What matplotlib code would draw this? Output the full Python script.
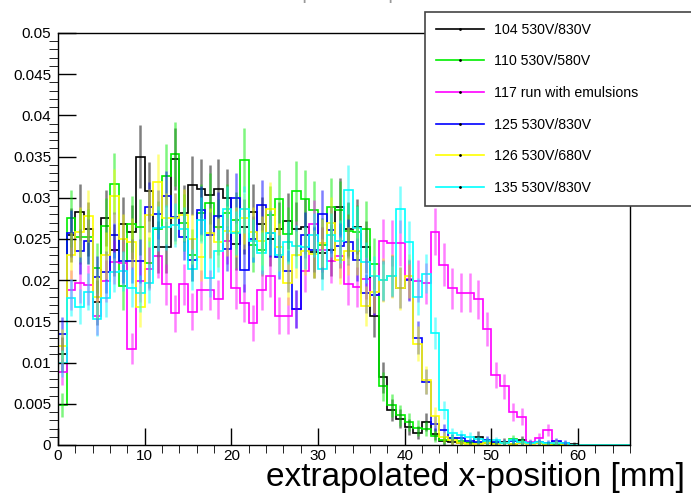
import numpy as np
import matplotlib
matplotlib.use("Agg")
import matplotlib.pyplot as plt
from matplotlib.lines import Line2D

plt.rcParams['font.family'] = ['Liberation Sans', 'DejaVu Sans']

# bin edges: 66 bins of 1 mm
edges = np.arange(0, 67, 1.0)

# normalised bin contents, bins 0..65
run104 = [0.0110, 0.0255, 0.0283, 0.0262, 0.0173, 0.0276, 0.0237, 0.0268, 0.0258, 0.0350,
          0.0308, 0.0240, 0.0240, 0.0347, 0.0281, 0.0315, 0.0311, 0.0304, 0.0311, 0.0300,
          0.0244, 0.0265, 0.0283, 0.0268, 0.0250, 0.0262, 0.0272, 0.0262, 0.0265, 0.0234,
          0.0233, 0.0237, 0.0289, 0.0262, 0.0265, 0.0240, 0.0156, 0.0082, 0.0043, 0.0032,
          0.0022, 0.0015, 0.0028, 0.0013, 0.0005, 0.0004, 0.0002, 0.0003, 0.0010, 0.0003,
          0.0002, 0.0004, 0.0001, 0.0006, 0.0002, 0.0002, 0.0001, 0.0002, 0.0001, 0.0001,
          0, 0, 0, 0, 0, 0]
run110 = [0.0049, 0.0275, 0.0253, 0.0253, 0.0215, 0.0266, 0.0317, 0.0193, 0.0268, 0.0265,
          0.0221, 0.0262, 0.0327, 0.0353, 0.0270, 0.0231, 0.0282, 0.0294, 0.0265, 0.0282,
          0.0273, 0.0346, 0.0243, 0.0237, 0.0279, 0.0298, 0.0256, 0.0308, 0.0298, 0.0285,
          0.0243, 0.0289, 0.0285, 0.0260, 0.0258, 0.0262, 0.0220, 0.0071, 0.0048, 0.0036,
          0.0028, 0.0021, 0.0020, 0.0011, 0.0006, 0.0008, 0.0005, 0.0003, 0.0002, 0.0004,
          0.0003, 0.0002, 0.0007, 0.0004, 0.0002, 0.0003, 0.0001, 0.0001, 0, 0,
          0, 0, 0, 0, 0, 0]
run117 = [0.0089, 0.0188, 0.0197, 0.0194, 0.0156, 0.0199, 0.0222, 0.0221, 0.0117, 0.0199,
          0.0214, 0.0229, 0.0195, 0.0160, 0.0195, 0.0162, 0.0188, 0.0188, 0.0177, 0.0248,
          0.0190, 0.0172, 0.0148, 0.0188, 0.0205, 0.0157, 0.0157, 0.0165, 0.0211, 0.0268,
          0.0237, 0.0223, 0.0229, 0.0195, 0.0192, 0.0202, 0.0182, 0.0247, 0.0245, 0.0245,
          0.0201, 0.0199, 0.0196, 0.0259, 0.0219, 0.0190, 0.0185, 0.0185, 0.0177, 0.0141,
          0.0085, 0.0071, 0.0040, 0.0034, 0.0004, 0.0009, 0.0018, 0.0004, 0.0002, 0,
          0, 0, 0, 0, 0, 0]
run125 = [0.0135, 0.0257, 0.0235, 0.0247, 0.0204, 0.0210, 0.0255, 0.0223, 0.0223, 0.0223,
          0.0289, 0.0280, 0.0302, 0.0277, 0.0253, 0.0225, 0.0285, 0.0255, 0.0278, 0.0238,
          0.0300, 0.0212, 0.0250, 0.0291, 0.0257, 0.0228, 0.0211, 0.0165, 0.0255, 0.0237,
          0.0280, 0.0261, 0.0242, 0.0246, 0.0225, 0.0184, 0.0182, 0.0200, 0.0205, 0.0191,
          0.0200, 0.0130, 0.0077, 0.0026, 0.0018, 0.0008, 0.0008, 0.0005, 0.0004, 0.0006,
          0.0004, 0.0003, 0.0005, 0.0002, 0.0003, 0.0004, 0.0003, 0.0005, 0.0003, 0,
          0, 0, 0, 0, 0, 0]
run126 = [0.0120, 0.0230, 0.0258, 0.0278, 0.0180, 0.0230, 0.0302, 0.0250, 0.0246, 0.0168,
          0.0279, 0.0319, 0.0275, 0.0275, 0.0279, 0.0250, 0.0228, 0.0257, 0.0246, 0.0260,
          0.0258, 0.0275, 0.0258, 0.0248, 0.0287, 0.0240, 0.0197, 0.0231, 0.0235, 0.0232,
          0.0245, 0.0270, 0.0224, 0.0235, 0.0235, 0.0169, 0.0186, 0.0200, 0.0205, 0.0190,
          0.0205, 0.0123, 0.0079, 0.0035, 0.0010, 0.0006, 0.0003, 0.0001, 0.0001, 0.0002,
          0.0001, 0.0002, 0.0001, 0.0003, 0.0001, 0.0002, 0.0001, 0.0003, 0, 0,
          0, 0, 0, 0, 0, 0]
run135 = [0.0099, 0.0179, 0.0168, 0.0186, 0.0153, 0.0178, 0.0210, 0.0211, 0.0191, 0.0184,
          0.0196, 0.0263, 0.0264, 0.0267, 0.0262, 0.0213, 0.0273, 0.0203, 0.0236, 0.0286,
          0.0257, 0.0286, 0.0248, 0.0233, 0.0257, 0.0230, 0.0246, 0.0241, 0.0240, 0.0255,
          0.0213, 0.0255, 0.0247, 0.0310, 0.0263, 0.0222, 0.0205, 0.0200, 0.0205, 0.0286,
          0.0246, 0.0180, 0.0208, 0.0136, 0.0043, 0.0014, 0.0012, 0.0010, 0.0007, 0.0005,
          0.0006, 0.0003, 0.0006, 0.0004, 0.0003, 0.0004, 0.0002, 0.0003, 0.0002, 0,
          0, 0, 0, 0, 0, 0]

# approx. number of entries per run (sets the Poisson error bars)
entries = [2400, 2300, 3200, 3200, 2800, 3600]

labels = ['104 530V/830V', '110 530V/580V', '117 run with emulsions',
          '125 530V/830V', '126 530V/680V', '135 530V/830V']
colors = ['black', '#00ee00', '#ff00ff', '#0000ff', '#ffff00', '#00ffff']

yticks = [0, 0.005, 0.01, 0.015, 0.02, 0.025, 0.03, 0.035, 0.04, 0.045, 0.05]
ytick_labels = ['0', '0.005', '0.01', '0.015', '0.02', '0.025', '0.03', '0.035',
                '0.04', '0.045', '0.05']
xticks = [0, 10, 20, 30, 40, 50, 60]

fig = plt.figure(figsize=(6.91, 4.96), dpi=100)
ax = fig.add_axes([58/691, 1 - 445/496, 572/691, 412/496])

centers = 0.5 * (edges[:-1] + edges[1:])
runs = [run104, run110, run117, run125, run126, run135]
handles = []
for vals, n, c, lab in zip(runs, entries, colors, labels):
    v = np.array(vals)
    err = np.sqrt(v / n)
    ax.stairs(v, edges, baseline=0, color=c, lw=1.2)
    m = v > 0
    ax.vlines(centers[m], v[m] - err[m], v[m] + err[m], color=c, lw=1.8, alpha=0.5)
    handles.append(Line2D([0], [0], color=c, lw=1.2, marker='.', markersize=2,
                          markerfacecolor='black', markeredgecolor='black'))

ax.set_xlim(0, 66)
ax.set_ylim(0, 0.05)
ax.set_yticks(yticks)
ax.set_yticklabels(ytick_labels)
ax.set_xticks(xticks)
ax.set_xticks(np.arange(0, 67, 2), minor=True)
ax.set_yticks(np.arange(0, 0.0501, 0.001), minor=True)
ax.tick_params(direction='in', labelsize=11, width=1)
ax.tick_params(axis='y', which='major', length=13, pad=5)
ax.tick_params(axis='y', which='minor', length=6.5)
ax.tick_params(axis='x', which='major', length=12, pad=3)
ax.tick_params(axis='x', which='minor', length=6)
for s in ax.spines.values():
    s.set_linewidth(1)

fig.text(685/691, 10/496, 'extrapolated x-position [mm]', ha='right', va='baseline',
         fontsize=24)

# title, only its lowest edge shows at the top of the canvas
fig.text(330/691, 1 + 1/496, 'Track extrapolated x-position', ha='center', va='baseline',
         fontsize=14, color='#999999')

leg = fig.legend(handles, labels, loc='upper left',
                 bbox_to_anchor=(425/691, 1 - 202/496, 280/691, 190/496),
                 mode='expand', fontsize=10.2, handlelength=3.4, handletextpad=0.7,
                 labelspacing=1.25, borderpad=0.75, borderaxespad=0, fancybox=False,
                 framealpha=1, edgecolor='#444444')
leg.get_frame().set_linewidth(1.2)

fig.savefig('out.png', dpi=100)
